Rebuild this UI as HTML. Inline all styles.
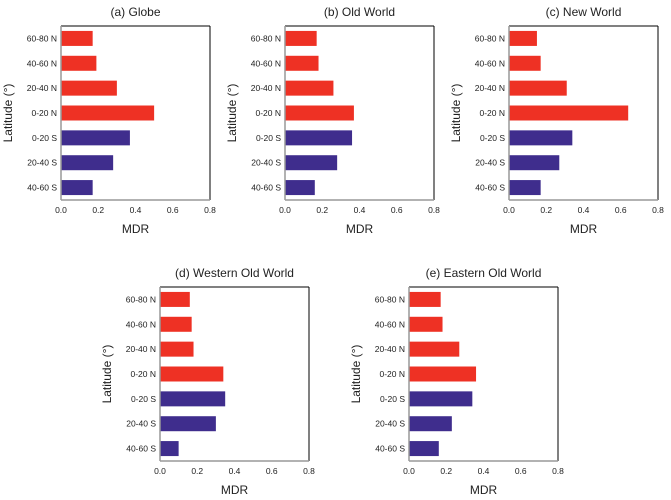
<!DOCTYPE html>
<html><head><meta charset="utf-8"><style>body{margin:0;background:#fff}svg{display:block;font-family:"Liberation Sans",sans-serif}</style></head>
<body>
<svg id="c" width="671" height="500"></svg>
<script>
const categories=["60-80 N","40-60 N","20-40 N","0-20 N","0-20 S","20-40 S","40-60 S"];
const isNorth=[true,true,true,true,false,false,false];
const globeValues=[0.17,0.19,0.30,0.50,0.37,0.28,0.17];
const oldWorldValues=[0.17,0.18,0.26,0.37,0.36,0.28,0.16];
const newWorldValues=[0.15,0.17,0.31,0.64,0.34,0.27,0.17];
const westernValues=[0.16,0.17,0.18,0.34,0.35,0.30,0.10];
const easternValues=[0.17,0.18,0.27,0.36,0.34,0.23,0.16];
const xTicks=[0,0.2,0.4,0.6,0.8];
const xTickLabels=["0.0","0.2","0.4","0.6","0.8"];
const titles=["(a) Globe","(b) Old World","(c) New World","(d) Western Old World","(e) Eastern Old World"];
const NS="http://www.w3.org/2000/svg";
const svg=document.getElementById('c');
function mk(t,a,p){const e=document.createElementNS(NS,t);for(const k in a)e.setAttribute(k,a[k]);(p||svg).appendChild(e);return e;}
const panels=[
 {v:globeValues,l:61,t:26,name:'globe'},
 {v:oldWorldValues,l:285,t:26,name:'old-world'},
 {v:newWorldValues,l:509,t:26,name:'new-world'},
 {v:westernValues,l:160,t:287,name:'western-old-world'},
 {v:easternValues,l:409,t:287,name:'eastern-old-world'}];
panels.forEach((p,pi)=>{
 const W=149,H=174;
 const g=mk('g',{});
 
 
 const xs=v=>p.l+v/0.8*W;
 const step=H/7;
 const ys=i=>p.t+step*(i+0.5);
 const ti=mk('text',{x:p.l+W/2,y:p.t-10,'text-anchor':'middle','font-size':12,fill:'#222'},g);ti.textContent=titles[pi];
 
 
 p.v.forEach((val,i)=>{
  const r=mk('rect',{x:xs(0),y:ys(i)-7.5,width:xs(val)-xs(0),height:15,fill:isNorth[i]?'#ee3124':'#3f2d8d'},g);
  
  
  const lb=mk('text',{x:p.l-4,y:ys(i)+3,'text-anchor':'end','font-size':8.5,fill:'#222'},g);lb.textContent=categories[i];
  
  
 });
 mk('line',{x1:p.l,y1:p.t,x2:p.l+W,y2:p.t,stroke:'#000','stroke-width':1},g);
 mk('line',{x1:p.l+W,y1:p.t,x2:p.l+W,y2:p.t+H,stroke:'#000','stroke-width':1},g);
 mk('line',{x1:p.l,y1:p.t,x2:p.l,y2:p.t+H,stroke:'#999','stroke-width':1.5},g);
 mk('line',{x1:p.l,y1:p.t+H,x2:p.l+W,y2:p.t+H,stroke:'#999','stroke-width':1.5},g);
 xTicks.forEach((t,i)=>{
  const tx=mk('text',{x:xs(t),y:p.t+H+13,'text-anchor':'middle','font-size':8.5,fill:'#222'},g);tx.textContent=xTickLabels[i];
  
  
 });
 const xt=mk('text',{x:p.l+W/2,y:p.t+H+33,'text-anchor':'middle','font-size':12,fill:'#222'},g);xt.textContent='MDR';
 
 
 const cx=p.l-49,cy=p.t+H/2;
 const yt=mk('text',{x:cx,y:cy,'text-anchor':'middle','font-size':12,fill:'#222',transform:`rotate(-90 ${cx} ${cy})`},g);yt.textContent='Latitude (°)';
 
 
});
</script>
</body></html>
